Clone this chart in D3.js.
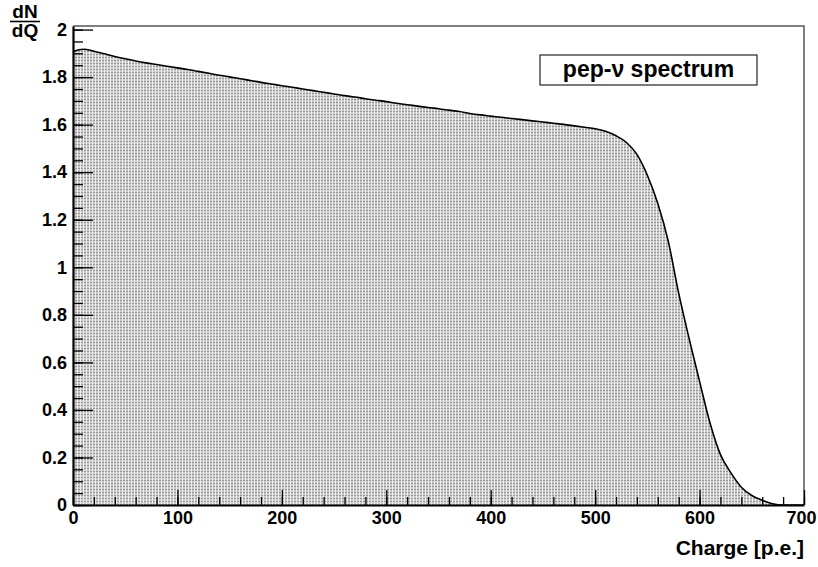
<!DOCTYPE html>
<html>
<head>
<meta charset="utf-8">
<script src="https://cdn.jsdelivr.net/npm/d3@7"></script>
<style>
  body { margin: 0; background: #fff; }
  text { font-family: "Liberation Sans", Arial, sans-serif; font-weight: bold; }
</style>
</head>
<body>
<svg id="chart" width="818" height="567"></svg>
<script>
var width = 818;
var height = 567;
var margin = {top: 26, right: 14, bottom: 62, left: 73};

// Data (charge in p.e., dN/dQ)
var charge = [0, 10, 20, 30, 40, 50, 60, 70, 80, 90,
              100, 110, 120, 130, 140, 150, 160, 170, 180, 190,
              200, 210, 220, 230, 240, 250, 260, 270, 280, 290,
              300, 310, 320, 330, 340, 350, 360, 370, 380, 390,
              400, 410, 420, 430, 440, 450, 460, 470, 480, 490,
              500, 510, 520, 530, 540, 550, 560, 570, 580, 590,
              600, 610, 620, 630, 640, 650, 660, 670, 680, 690, 700];
var dndq = [1.908, 1.917, 1.909, 1.898, 1.887, 1.877, 1.868, 1.860, 1.853, 1.846,
            1.839, 1.832, 1.824, 1.816, 1.808, 1.801, 1.793, 1.786, 1.778, 1.771,
            1.764, 1.757, 1.750, 1.743, 1.736, 1.729, 1.722, 1.716, 1.709, 1.703,
            1.697, 1.690, 1.684, 1.678, 1.672, 1.667, 1.661, 1.655, 1.647, 1.641,
            1.636, 1.631, 1.626, 1.621, 1.616, 1.611, 1.606, 1.601, 1.595, 1.589,
            1.583, 1.572, 1.553, 1.525, 1.475, 1.387, 1.268, 1.110, 0.891, 0.700,
            0.520, 0.345, 0.212, 0.135, 0.075, 0.040, 0.020, 0.005, 0, 0, 0];

var xMajor = [0, 100, 200, 300, 400, 500, 600, 700];
var yMajor = [0, 0.2, 0.4, 0.6, 0.8, 1, 1.2, 1.4, 1.6, 1.8, 2];
var legendLabel = "pep-\u03bd spectrum";
var xTitle = "Charge [p.e.]";

var points = charge.map(function(c, i) { return {x: c, y: dndq[i]}; });

// Scales //
var xScale = d3.scaleLinear()
               .domain([0, 700])
               .range([margin.left, width - margin.right]);
var yScale = d3.scaleLinear()
               .domain([0, 2.015])
               .range([height - margin.bottom, margin.top]);

var svg = d3.select("#chart");

// fill pattern (ROOT style hatch)
var pat = svg.append("defs").append("pattern")
  .attr("id", "dots")
  .attr("patternUnits", "userSpaceOnUse")
  .attr("width", 3).attr("height", 3);
pat.append("rect").attr("width", 3).attr("height", 3).attr("fill", "#cbcbcb");
pat.append("rect").attr("width", 2).attr("height", 1).attr("fill", "#969696");
pat.append("rect").attr("x", 2).attr("width", 1).attr("height", 3).attr("fill", "#eeeeee");

// Histogram area + outline
var area = d3.area()
  .x(d => xScale(d.x))
  .y0(yScale(0))
  .y1(d => yScale(d.y))
  .curve(d3.curveMonotoneX);
var line = d3.line()
  .x(d => xScale(d.x))
  .y(d => yScale(d.y))
  .curve(d3.curveMonotoneX);

svg.append("path")
  .datum(points)
  .attr("d", area)
  .attr("fill", "url(#dots)");
svg.append("path")
  .datum(points)
  .attr("d", line)
  .attr("fill", "none")
  .attr("stroke", "#000")
  .attr("stroke-width", 1.6);

// Frame (top / right)
svg.append("path")
  .attr("d", "M" + xScale(0) + "," + yScale.range()[1] + "H" + xScale(700) + "V" + yScale(0))
  .attr("fill", "none")
  .attr("stroke", "#555")
  .attr("stroke-width", 1.5);

// Y axis: major ticks with labels, minor ticks every 0.05
var yMinor = d3.range(0, 2.0001, 0.05);
svg.append("g")
  .attr("transform", "translate(" + margin.left + ",0)")
  .call(d3.axisLeft(yScale).tickValues(yMinor).tickSize(-10).tickSizeOuter(0).tickFormat(""))
  .call(g => g.select(".domain").remove())
  .call(g => g.selectAll("line").attr("stroke", "#000").attr("stroke-width", 1.3));
var yAxis = svg.append("g")
  .attr("transform", "translate(" + margin.left + ",0)")
  .call(d3.axisLeft(yScale).tickValues(yMajor).tickSize(-20).tickSizeOuter(0)
        .tickFormat(d3.format("~g")));
yAxis.select(".domain").attr("stroke", "#000").attr("stroke-width", 2.2);
yAxis.selectAll("line").attr("stroke", "#000").attr("stroke-width", 1.3);
yAxis.selectAll("text")
  .attr("x", -6)
  .attr("font-size", "18px")
  .attr("fill", "#000");

// X axis: major ticks every 100, minor every 20
var xMinor = d3.range(0, 701, 20);
svg.append("g")
  .attr("transform", "translate(0," + yScale(0) + ")")
  .call(d3.axisBottom(xScale).tickValues(xMinor).tickSize(-8).tickSizeOuter(0).tickFormat(""))
  .call(g => g.select(".domain").remove())
  .call(g => g.selectAll("line").attr("stroke", "#000").attr("stroke-width", 1.3));
var xAxis = svg.append("g")
  .attr("transform", "translate(0," + yScale(0) + ")")
  .call(d3.axisBottom(xScale).tickValues(xMajor).tickSize(-15).tickSizeOuter(0).tickFormat(d3.format("d")));
xAxis.select(".domain").attr("stroke", "#000").attr("stroke-width", 2.2);
xAxis.selectAll("line").attr("stroke", "#000").attr("stroke-width", 1.3);
xAxis.selectAll("text")
  .attr("y", 6)
  .attr("font-size", "18px")
  .attr("fill", "#000")
  .attr("dx", d => d === 700 ? -3 : 0);

// Axis titles
svg.append("text")
  .attr("x", xScale(700))
  .attr("y", 555)
  .attr("text-anchor", "end")
  .attr("font-size", "21px")
  .text(xTitle);

var yt = svg.append("g").attr("transform", "translate(25,0)");
yt.append("text").attr("y", 18).attr("text-anchor", "middle").attr("font-size", "19px").text("dN");
yt.append("line").attr("x1", -15).attr("x2", 15).attr("y1", 21.5).attr("y2", 21.5)
  .attr("stroke", "#000").attr("stroke-width", 1.6);
yt.append("text").attr("y", 37).attr("text-anchor", "middle").attr("font-size", "19px").text("dQ");

// Legend box
var legend = svg.append("g").attr("transform", "translate(540,55)");
legend.append("rect")
  .attr("width", 217).attr("height", 30)
  .attr("fill", "#fff")
  .attr("stroke", "#333")
  .attr("stroke-width", 1.3);
legend.append("text")
  .attr("x", 108.5).attr("y", 22)
  .attr("text-anchor", "middle")
  .attr("font-size", "23px")
  .text(legendLabel);
</script>
</body>
</html>
